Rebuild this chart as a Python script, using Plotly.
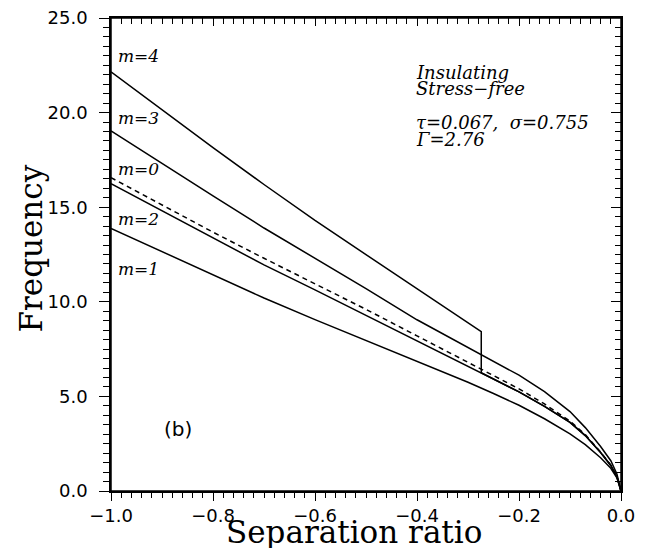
import plotly.graph_objects as go

# ---- data ----
x_grid = [-1.0, -0.9, -0.8, -0.7, -0.6, -0.5, -0.4, -0.3, -0.25, -0.2, -0.15, -0.1, -0.07, -0.04, -0.02, -0.008, 0.0]
m1 = [13.88, 12.65, 11.4, 10.2, 9.06, 7.95, 6.85, 5.75, 5.15, 4.53, 3.82, 3.02, 2.45, 1.76, 1.2, 0.7, 0.0]
m2 = [16.24, 14.8, 13.35, 11.95, 10.63, 9.28, 7.93, 6.6, 5.93, 5.24, 4.47, 3.63, 2.93, 2.03, 1.35, 0.75, 0.0]
m0 = [16.56, 15.1, 13.68, 12.3, 10.97, 9.6, 8.2, 6.8, 6.1, 5.4, 4.6, 3.7, 2.98, 2.06, 1.37, 0.75, 0.0]
m3 = [19.03, 17.3, 15.6, 13.9, 12.3, 10.7, 9.05, 7.6, 6.85, 6.12, 5.25, 4.2, 3.35, 2.35, 1.6, 0.9, 0.0]
m4_x = [-1.0, -0.9, -0.8, -0.7, -0.6, -0.5, -0.4, -0.3, -0.274, -0.274, -0.25, -0.2, -0.15, -0.1, -0.07, -0.04, -0.02, -0.008, 0.0]
m4 = [22.15, 20.15, 18.15, 16.2, 14.3, 12.49, 10.69, 8.89, 8.42, 6.25, 5.93, 5.24, 4.47, 3.63, 2.93, 2.03, 1.35, 0.75, 0.0]

curve_labels = ["m=4", "m=3", "m=0", "m=2", "m=1"]
curve_label_y = [23.0, 19.72, 17.02, 14.38, 11.73]
info_lines = ["Insulating", "Stress\u2212free", "\u03c4=0.067,  \u03c3=0.755", "\u0393=2.76"]
info_y = [22.11, 21.28, 19.47, 18.60]

x_range = [-1.0, 0.0]
y_range = [0.0, 25.0]

fig = go.Figure()
line = dict(color="black", width=1.5)
fig.add_trace(go.Scatter(x=x_grid, y=m1, mode="lines", line=line, xaxis="x2", yaxis="y2", hoverinfo="skip"))
fig.add_trace(go.Scatter(x=x_grid, y=m2, mode="lines", line=line, hoverinfo="skip"))
fig.add_trace(go.Scatter(x=x_grid, y=m0, mode="lines", line=dict(color="black", width=1.5, dash="5px,4px"), hoverinfo="skip"))
fig.add_trace(go.Scatter(x=x_grid, y=m3, mode="lines", line=line, hoverinfo="skip"))
fig.add_trace(go.Scatter(x=m4_x, y=m4, mode="lines", line=line, hoverinfo="skip"))

tickfont = dict(family="DejaVu Sans", size=18, color="black")
common = dict(showgrid=False, zeroline=False, showline=True, linecolor="black", linewidth=1.5,
              tickcolor="black", tickwidth=1.2, automargin=False)

# page body has an 8px default margin, so the figure is 8px smaller than the window
fig.update_layout(
    template="none",
    width=646, height=540,
    margin=dict(l=103, r=33, t=10, b=57),
    paper_bgcolor="white", plot_bgcolor="white",
    showlegend=False,
    xaxis=dict(range=x_range, dtick=0.2, tick0=0, tickformat=".1f", ticks="outside", ticklen=8,
               minor=dict(dtick=0.02, ticks="outside", ticklen=5, tickcolor="black"),
               tickfont=tickfont, ticklabeloverflow="allow", **common),
    yaxis=dict(range=y_range, dtick=5, tick0=0, tickformat=".1f", ticks="outside", ticklen=10,
               minor=dict(dtick=0.5, ticks="outside", ticklen=6, tickcolor="black"),
               tickfont=tickfont, ticklabelstandoff=8, ticklabeloverflow="allow", **common),
    xaxis2=dict(range=x_range, overlaying="x", side="top", anchor="y", dtick=0.2, tick0=0,
                ticks="inside", ticklen=8, showticklabels=False,
                minor=dict(dtick=0.02, ticks="inside", ticklen=6, tickcolor="black"), **common),
    yaxis2=dict(range=y_range, overlaying="y", side="right", anchor="x", dtick=5, tick0=0,
                ticks="inside", ticklen=10, showticklabels=False,
                minor=dict(dtick=0.5, ticks="inside", ticklen=6, tickcolor="black"), **common),
)

# plot frame
fig.add_shape(type="rect", xref="paper", yref="paper", x0=0, x1=1, y0=0, y1=1,
              line=dict(color="black", width=1.5), layer="above")

# axis titles
fig.add_annotation(xref="paper", yref="paper", x=0.5, y=0, xshift=-12, yshift=-41,
                   xanchor="center", yanchor="middle", showarrow=False, text="Separation ratio",
                   font=dict(family="DejaVu Serif", size=31, color="black"))
fig.add_annotation(xref="paper", yref="paper", x=0, y=0.5, xshift=-81, yshift=6, textangle=-90,
                   xanchor="center", yanchor="middle", showarrow=False, text="Frequency",
                   font=dict(family="DejaVu Serif", size=31, color="black"))

lab_font = dict(family="DejaVu Serif", size=17, color="black", style="italic")
for t, yv in zip(curve_labels, curve_label_y):
    fig.add_annotation(x=-0.99, y=yv, text=t, showarrow=False, xanchor="left", yanchor="middle", font=lab_font)

info_font = dict(family="DejaVu Serif", size=18, color="black", style="italic")
for t, yv in zip(info_lines, info_y):
    fig.add_annotation(x=-0.405, y=yv, text=t, showarrow=False, xanchor="left", yanchor="middle", font=info_font)

fig.add_annotation(x=-0.868, y=3.28, text="(b)", showarrow=False, xanchor="center", yanchor="middle",
                   font=dict(family="DejaVu Sans", size=20, color="black"))

fig.write_html("out.html", config={"displayModeBar": False})
